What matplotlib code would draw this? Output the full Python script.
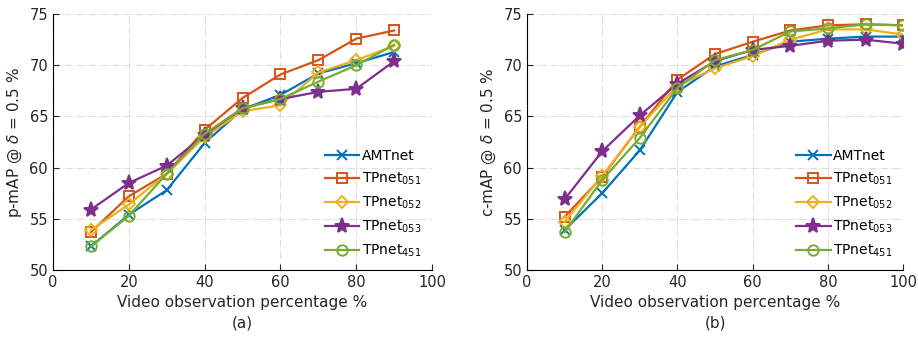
import matplotlib.pyplot as plt

xs_a = [10, 20, 30, 40, 50, 60, 70, 80, 90]
xs_b = [10, 20, 30, 40, 50, 60, 70, 80, 90, 100]

names = ['AMTnet', 'TPnet$_{051}$', 'TPnet$_{052}$', 'TPnet$_{053}$', 'TPnet$_{451}$']
colors = ['#0072BD', '#D95319', '#EDB120', '#7E2F8E', '#77AC30']
markers = ['x', 's', 'D', '*', 'o']

# (a) p-mAP
amt_a = [52.3, 55.4, 57.8, 62.4, 65.7, 67.1, 69.2, 70.2, 71.3]
tp051_a = [53.7, 57.2, 59.4, 63.7, 66.8, 69.1, 70.5, 72.6, 73.4]
tp052_a = [53.9, 56.4, 59.4, 63.0, 65.5, 66.1, 69.3, 70.5, 71.9]
tp053_a = [55.9, 58.5, 60.2, 63.2, 65.8, 66.7, 67.4, 67.7, 70.4]
tp451_a = [52.3, 55.3, 59.4, 63.3, 65.8, 66.7, 68.4, 70.0, 72.0]

# (b) c-mAP
amt_b = [53.9, 57.5, 61.7, 67.4, 69.9, 71.0, 72.3, 72.6, 72.8, 72.8]
tp051_b = [55.2, 59.1, 64.0, 68.6, 71.1, 72.3, 73.4, 73.9, 74.0, 73.9]
tp052_b = [54.7, 59.2, 64.0, 68.0, 69.7, 70.9, 72.5, 73.5, 73.5, 73.0]
tp053_b = [56.9, 61.6, 65.1, 68.2, 70.4, 71.5, 71.9, 72.4, 72.5, 72.1]
tp451_b = [53.7, 58.8, 62.9, 67.8, 70.5, 71.5, 73.3, 73.6, 74.0, 73.9]

marker_size = {'x': 7, 's': 6.5, 'D': 6, '*': 11, 'o': 7.5}

fig = plt.figure(figsize=(9.18, 3.39), dpi=100)
ax1 = fig.add_axes([0.0577, 0.2035, 0.413, 0.755])
ax2 = fig.add_axes([0.574, 0.2035, 0.41, 0.755])

panels = [
    (ax1, xs_a, [amt_a, tp051_a, tp052_a, tp053_a, tp451_a], 'p-mAP @ $\\delta$ = 0.5 %', '(a)'),
    (ax2, xs_b, [amt_b, tp051_b, tp052_b, tp053_b, tp451_b], 'c-mAP @ $\\delta$ = 0.5 %', '(b)'),
]

for ax, xs, series, ylab, tag in panels:
    for ys, name, c, m in zip(series, names, colors, markers):
        fc = c if m == '*' else 'none'
        ax.plot(xs, ys, color=c, marker=m, markersize=marker_size[m], markerfacecolor=fc,
                markeredgecolor=c, markeredgewidth=1.4, linewidth=1.6, label=name)
    ax.set_xlim(0, 100)
    ax.set_ylim(50, 75)
    ax.set_xticks(range(0, 101, 20))
    ax.set_yticks(range(50, 76, 5))
    ax.grid(True, linestyle='-.', color='#dddddd', linewidth=0.8)
    ax.set_axisbelow(True)
    for s in ['top', 'right']:
        ax.spines[s].set_visible(False)
    ax.tick_params(labelsize=10.5, direction='in', length=4, colors='#262626')
    ax.set_xlabel('Video observation percentage %\n' + tag, fontsize=11, color='#262626',
                  labelpad=4, linespacing=1.45)
    ax.set_ylabel(ylab, fontsize=11, color='#262626', labelpad=4)
    ax.legend(loc='lower right', frameon=False, fontsize=10, handlelength=2.5,
              handletextpad=0.15, labelspacing=0.55, borderaxespad=0.4)

fig.savefig('out.png', dpi=100)
